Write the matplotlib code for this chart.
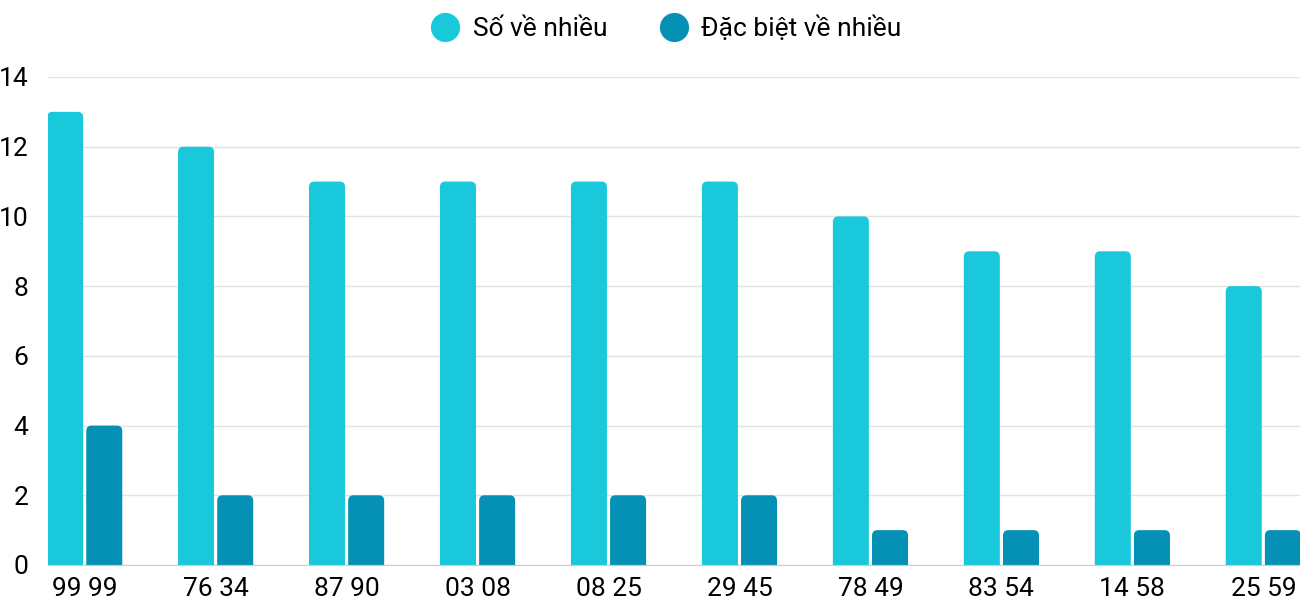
import matplotlib
matplotlib.use("Agg")
import matplotlib.pyplot as plt
from matplotlib.patches import FancyBboxPatch
from matplotlib.lines import Line2D
import numpy as np

categories = ["99 99", "76 34", "87 90", "03 08", "08 25", "29 45", "78 49", "83 54", "14 58", "25 59"]
so_ve_nhieu = [13, 12, 11, 11, 11, 11, 10, 9, 9, 8]
dac_biet = [4, 2, 2, 2, 2, 2, 1, 1, 1, 1]
series_names = ["Số về nhiều", "Đặc biệt về nhiều"]
colors = ["#1ac8db", "#0591b5"]

plt.rcParams['font.family'] = ['Roboto', 'DejaVu Sans']

fig = plt.figure(figsize=(13, 6), dpi=100)
ax = fig.add_axes([48/1300, 35/600, 1252/1300, 488/600])

x = np.arange(len(categories))
bw = 0.275
gap = 0.012
bars1 = ax.bar(x - bw/2 - gap, so_ve_nhieu, width=bw, color=colors[0], zorder=3)
bars2 = ax.bar(x + bw/2 + gap, dac_biet, width=bw, color=colors[1], zorder=3)

ax.set_xlim(-0.28, len(categories) - 1 + 0.28)
ax.set_ylim(0, 14)

# Replace bars with top-rounded versions
rx = 0.04
ry = 0.16
for bars, c in ((bars1, colors[0]), (bars2, colors[1])):
    for b in bars:
        b.set_visible(False)
        x0, w, h = b.get_x(), b.get_width(), b.get_height()
        p = FancyBboxPatch((x0 + rx, -1 + ry), w - 2*rx, h + 1 - 2*ry,
                           boxstyle=f"round,pad={rx},rounding_size={rx}",
                           mutation_aspect=ry/rx, facecolor=c, edgecolor='none',
                           zorder=3, clip_on=True)
        ax.add_patch(p)

ax.set_yticks(range(0, 15, 2))
ax.grid(axis='y', color='#e3e3e3', linewidth=1, zorder=0)
ax.set_xticks(x)
ax.set_xticklabels(categories)
ax.tick_params(axis='both', length=0, labelsize=19, colors='#000000')
ax.tick_params(axis='y', pad=14)
ax.tick_params(axis='x', pad=9)
for s in ['top', 'right', 'left']:
    ax.spines[s].set_visible(False)
ax.spines['bottom'].set_color('#cccccc')
ax.spines['bottom'].set_zorder(4)

handles = [Line2D([0], [0], marker='o', linestyle='none', markersize=21,
                  markerfacecolor=c, markeredgecolor='none') for c in colors]
fig.legend(handles, series_names, loc='center', bbox_to_anchor=(0.512, 1 - 28/600),
           ncol=2, frameon=False, fontsize=19, handletextpad=0.45, columnspacing=1.9,
           handlelength=1.2, labelcolor='#000000')

fig.savefig("out.png", dpi=100)
